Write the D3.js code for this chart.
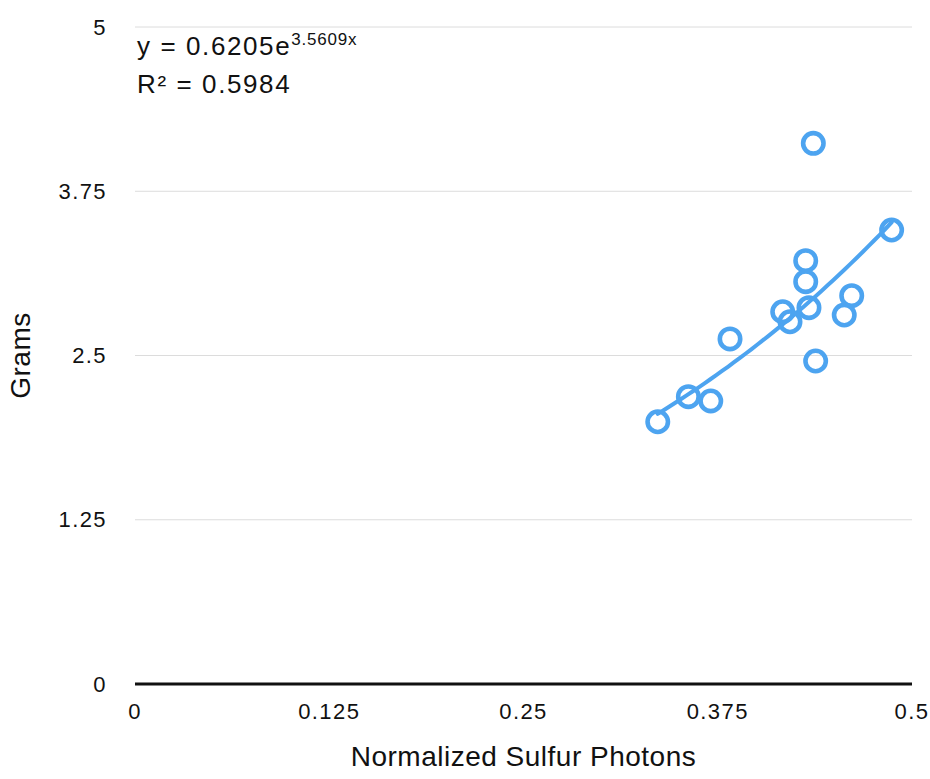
<!DOCTYPE html>
<html>
<head>
<meta charset="utf-8">
<script src="https://cdn.jsdelivr.net/npm/d3@7"></script>
<style>
  body { margin: 0; background: #fff; }
  svg text { font-family: "Liberation Sans", Arial, sans-serif; fill: #111; }
</style>
</head>
<body>
<svg id="chart" width="930" height="779"></svg>
<script>
// sulfur photons vs grams
var photons = [0.4365, 0.4869, 0.4316, 0.4316, 0.4337, 0.4168, 0.4215, 0.4612, 0.4564, 0.3829, 0.4380, 0.3561, 0.3705, 0.3364];
var grams   = [4.115, 3.455, 3.222, 3.062, 2.864, 2.833, 2.757, 2.955, 2.808, 2.626, 2.458, 2.187, 2.154, 1.996];
var xTicks = [0, 0.125, 0.25, 0.375, 0.5];
var yTicks = [0, 1.25, 2.5, 3.75, 5];
var fitA = 0.6205, fitB = 3.5609, rSq = 0.5984;

var svg = d3.select("#chart"),
    margin = {top: 27, right: 18, bottom: 95, left: 135},
    width = +svg.attr("width") - margin.left - margin.right,
    height = +svg.attr("height") - margin.top - margin.bottom,
    g = svg.append("g").attr("transform", "translate(" + margin.left + "," + margin.top + ")");

var blue = "#4da4f0";

var x = d3.scaleLinear().domain([0, 0.5]).range([0, width]);
var y = d3.scaleLinear().domain([0, 5]).range([height, 0]);

// gridlines
g.append("g")
  .selectAll("line")
  .data(yTicks.slice(1))
  .enter().append("line")
    .attr("x1", 0)
    .attr("x2", width)
    .attr("y1", function(d) { return y(d); })
    .attr("y2", function(d) { return y(d); })
    .attr("stroke", "#dcdcdc")
    .attr("stroke-width", 1);

// y labels
g.append("g")
  .selectAll("text")
  .data(yTicks)
  .enter().append("text")
    .attr("x", -28)
    .attr("y", function(d) { return y(d); })
    .attr("dy", "0.35em")
    .attr("text-anchor", "end")
    .attr("font-size", 22)
    .attr("letter-spacing", 1.4)
    .text(function(d) { return d; });

// x labels
g.append("g")
  .selectAll("text")
  .data(xTicks)
  .enter().append("text")
    .attr("x", function(d) { return x(d); })
    .attr("y", height + 35)
    .attr("text-anchor", "middle")
    .attr("font-size", 22)
    .attr("letter-spacing", 1.4)
    .text(function(d) { return d; });

// x axis line
g.append("line")
  .attr("x1", 0).attr("x2", width)
  .attr("y1", height).attr("y2", height)
  .attr("stroke", "#111")
  .attr("stroke-width", 3);

// axis titles
svg.append("text")
  .attr("x", margin.left + width / 2)
  .attr("y", 766)
  .attr("text-anchor", "middle")
  .attr("font-size", 28)
  .attr("letter-spacing", 0.5)
  .text("Normalized Sulfur Photons");

svg.append("text")
  .attr("transform", "translate(30," + (margin.top + height / 2) + ")rotate(-90)")
  .attr("text-anchor", "middle")
  .attr("font-size", 28)
  .attr("letter-spacing", 0.5)
  .text("Grams");

// exponential trendline
var xMin = d3.min(photons), xMax = d3.max(photons);
var fitPts = d3.range(0, 41).map(function(i) {
  var xv = xMin + (xMax - xMin) * i / 40;
  return [xv, fitA * Math.exp(fitB * xv)];
});
g.append("path")
  .datum(fitPts)
  .attr("fill", "none")
  .attr("stroke", blue)
  .attr("stroke-width", 4)
  .attr("stroke-linecap", "round")
  .attr("d", d3.line()
    .x(function(d) { return x(d[0]); })
    .y(function(d) { return y(d[1]); }));

// points
g.append("g")
  .selectAll("circle")
  .data(photons)
  .enter().append("circle")
    .attr("cx", function(d) { return x(d); })
    .attr("cy", function(d, i) { return y(grams[i]); })
    .attr("r", 10.2)
    .attr("fill", "none")
    .attr("stroke", blue)
    .attr("stroke-width", 4.6);

// equation
var eq = svg.append("text")
  .attr("x", 137)
  .attr("y", 55)
  .attr("font-size", 26)
  .attr("letter-spacing", 1.6);
eq.append("tspan").text("y = " + fitA + "e");
eq.append("tspan")
  .attr("dy", -10)
  .attr("font-size", 17)
  .attr("letter-spacing", 0.8)
  .text(fitB + "x");

svg.append("text")
  .attr("x", 137)
  .attr("y", 93)
  .attr("font-size", 26)
  .attr("letter-spacing", 1.6)
  .text("R² = " + rSq);
</script>
</body>
</html>
